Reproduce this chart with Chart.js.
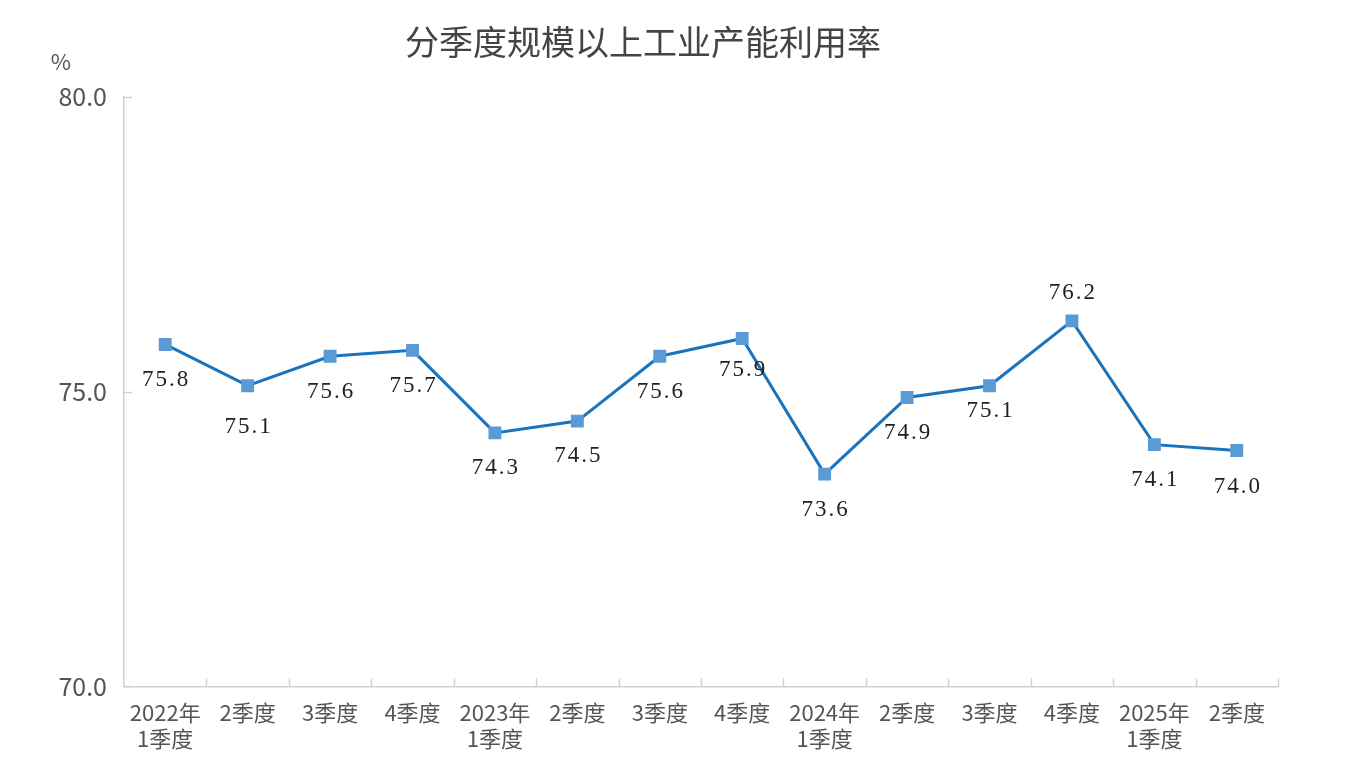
<!DOCTYPE html>
<html>
<head>
<meta charset="utf-8">
<script src="https://cdn.jsdelivr.net/npm/chart.js@4.4.1/dist/chart.umd.min.js"></script>
<style>
  html, body { margin: 0; padding: 0; background: #fff; }
  #wrap { width: 1366px; height: 768px; }
</style>
</head>
<body>
<div id="wrap"><canvas id="c"></canvas></div>
<script>
// quarters (multi-line category labels)
const categories = [
    ['2022年', '1季度'], '2季度', '3季度', '4季度',
    ['2023年', '1季度'], '2季度', '3季度', '4季度',
    ['2024年', '1季度'], '2季度', '3季度', '4季度',
    ['2025年', '1季度'], '2季度'
];
const utilization = [75.8, 75.1, 75.6, 75.7, 74.3, 74.5, 75.6, 75.9, 73.6, 74.9, 75.1, 76.2, 74.1, 74.0];
const yTicks = [70, 75, 80];

const SANS = '"Noto Sans CJK SC", "Noto Sans", sans-serif';

// value labels: mostly under the point, the peak goes above
const labelPlugin = {
    id: 'valueLabels',
    afterDatasetsDraw(chart) {
        const ctx = chart.ctx;
        const meta = chart.getDatasetMeta(0);
        const offsets = [36, 41, 36, 36, 35, 35, 36, 31, 36, 35, 25, -28, 35, 36];
        ctx.save();
        ctx.font = '23px "Liberation Serif", "DejaVu Serif", serif';
        ctx.letterSpacing = '2px';
        ctx.fillStyle = '#222';
        ctx.textAlign = 'center';
        ctx.textBaseline = 'middle';
        meta.data.forEach((pt, i) => {
            ctx.fillText(utilization[i].toFixed(1), pt.x + 1, pt.y + offsets[i]);
        });
        ctx.restore();
    }
};

// small inward tick marks and the "%" unit
const axisDeco = {
    id: 'axisDeco',
    afterDraw(chart) {
        const ctx = chart.ctx;
        const x = chart.scales.x, y = chart.scales.y;
        ctx.save();
        ctx.strokeStyle = '#d0d0d0';
        ctx.lineWidth = 1.5;
        yTicks.forEach(v => {
            const py = Math.round(y.getPixelForValue(v)) + 0.5;
            ctx.beginPath();
            ctx.moveTo(x.left, py);
            ctx.lineTo(x.left + 8, py);
            ctx.stroke();
        });
        const step = (x.right - x.left) / categories.length;
        for (let i = 1; i <= categories.length; i++) {
            const px = Math.round(x.left + step * i) + 0.5;
            ctx.beginPath();
            ctx.moveTo(px, y.bottom);
            ctx.lineTo(px, y.bottom - 8);
            ctx.stroke();
        }
        ctx.font = '22px ' + SANS;
        ctx.fillStyle = '#555';
        ctx.textAlign = 'center';
        ctx.textBaseline = 'middle';
        ctx.fillText('%', 61, 62);
        ctx.restore();
    }
};

new Chart(document.getElementById('c'), {
    type: 'line',
    data: {
        labels: categories,
        datasets: [{
            label: '规模以上工业产能利用率',
            data: utilization,
            borderColor: '#1a73bd',
            borderWidth: 3,
            pointStyle: 'rect',
            pointRadius: 7,
            pointHoverRadius: 7,
            pointBackgroundColor: '#5b9bd5',
            pointBorderColor: '#5b9bd5',
            tension: 0
        }]
    },
    options: {
        responsive: true,
        maintainAspectRatio: false,
        animation: false,
        layout: { padding: { left: 8, right: 88, top: 22, bottom: 3 } },
        plugins: {
            legend: { display: false },
            tooltip: { enabled: false },
            title: {
                display: true,
                text: '分季度规模以上工业产能利用率',
                color: '#444',
                font: { family: SANS, size: 34, weight: 'normal' },
                padding: { top: 0, bottom: 34 }
            }
        },
        scales: {
            x: {
                offset: true,
                grid: { display: false, drawTicks: false },
                border: { display: true, color: '#d0d0d0', width: 1.5 },
                ticks: {
                    color: '#555',
                    font: { family: SANS, size: 22, lineHeight: 1.15 },
                    padding: 14,
                    maxRotation: 0,
                    autoSkip: false
                }
            },
            y: {
                min: 70,
                max: 80,
                afterBuildTicks(axis) { axis.ticks = yTicks.map(v => ({ value: v })); },
                afterFit(axis) { axis.width = 116; },
                grid: { display: false, drawTicks: false },
                border: { display: true, color: '#d0d0d0', width: 1.5 },
                ticks: {
                    color: '#555',
                    font: { family: SANS, size: 25 },
                    padding: 17,
                    callback: v => Number(v).toFixed(1)
                }
            }
        }
    },
    plugins: [labelPlugin, axisDeco]
});
</script>
</body>
</html>
